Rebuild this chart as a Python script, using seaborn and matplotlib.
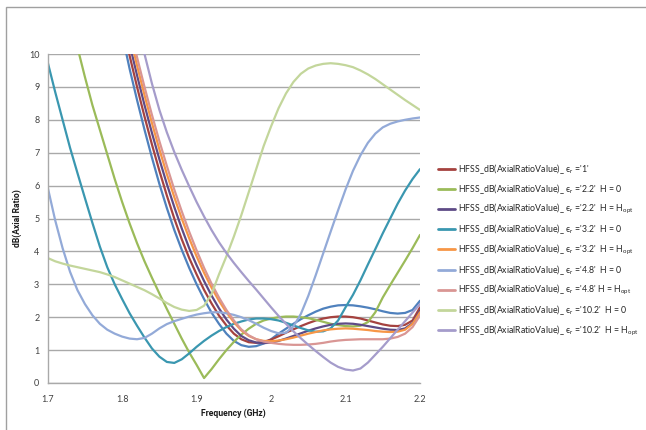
import numpy as np
import pandas as pd
import seaborn as sns
import matplotlib.pyplot as plt
from matplotlib import font_manager
from matplotlib.patches import Rectangle

nan = np.nan

# Frequency grid (GHz)
freq = np.round(np.arange(1.70, 2.2001, 0.01), 2)

# Axial ratio (dB) per simulated case
ar_ref = [nan] * 10 + [10.6, 9.55, 8.6, 7.7, 6.85, 6.05, 5.32, 4.65, 4.05, 3.5, 3.0, 2.55, 2.14, 1.8, 1.5,
                       1.28, 1.15, 1.1, 1.12, 1.2, 1.33, 1.5, 1.65, 1.8, 1.94, 2.06, 2.17, 2.26, 2.32, 2.36,
                       2.37, 2.36, 2.33, 2.29, 2.24, 2.18, 2.13, 2.11, 2.13, 2.22, 2.5]
ar_er1 = [nan] * 10 + [11.0, 9.95, 9.0, 8.1, 7.25, 6.45, 5.7, 5.0, 4.37, 3.8, 3.3, 2.83, 2.42, 2.05, 1.75,
                       1.5, 1.33, 1.24, 1.22, 1.25, 1.32, 1.42, 1.53, 1.63, 1.73, 1.82, 1.9, 1.96, 2.0, 2.02,
                       2.02, 2.0, 1.96, 1.9, 1.84, 1.78, 1.74, 1.73, 1.77, 1.9, 2.3]
ar_er22_h0 = [14.5, 13.4, 12.3, 11.2, 10.2, 9.3, 8.45, 7.7, 6.95, 6.2, 5.5, 4.85, 4.25, 3.7, 3.2, 2.72, 2.25,
              1.8, 1.35, 0.93, 0.55, 0.15, 0.42, 0.72, 1.0, 1.25, 1.47, 1.65, 1.8, 1.9, 1.96, 2.0, 2.02,
              2.02, 2.0, 1.97, 1.92, 1.86, 1.8, 1.76, 1.73, 1.72, 1.74, 1.85, 2.15, 2.6, 2.98, 3.35, 3.72,
              4.1, 4.5]
ar_er22_hopt = [nan] * 10 + [11.3, 10.3, 9.35, 8.45, 7.6, 6.8, 6.05, 5.35, 4.7, 4.1, 3.58, 3.1, 2.66, 2.27,
                             1.93, 1.65, 1.43, 1.3, 1.23, 1.21, 1.23, 1.28, 1.35, 1.43, 1.51, 1.59, 1.66, 1.72,
                             1.77, 1.8, 1.81, 1.8, 1.77, 1.73, 1.69, 1.65, 1.62, 1.61, 1.66, 1.82, 2.2]
ar_er32_h0 = [9.75, 8.85, 8.0, 7.15, 6.38, 5.62, 4.87, 4.15, 3.52, 3.0, 2.55, 2.12, 1.74, 1.38, 1.05, 0.8,
              0.64, 0.61, 0.72, 0.9, 1.1, 1.28, 1.44, 1.58, 1.7, 1.8, 1.87, 1.93, 1.96, 1.96, 1.94, 1.9,
              1.83, 1.75, 1.67, 1.6, 1.56, 1.57, 1.66, 1.9, 2.3, 2.68, 3.12, 3.6, 4.07, 4.55, 5.0, 5.45,
              5.85, 6.2, 6.5]
ar_er32_hopt = [nan] * 10 + [11.6, 10.6, 9.65, 8.75, 7.9, 7.1, 6.35, 5.65, 5.0, 4.4, 3.85, 3.35, 2.9, 2.5,
                             2.15, 1.85, 1.6, 1.43, 1.33, 1.28, 1.27, 1.29, 1.33, 1.38, 1.44, 1.5, 1.55, 1.6,
                             1.63, 1.65, 1.66, 1.65, 1.63, 1.61, 1.58, 1.56, 1.55, 1.56, 1.62, 1.8, 2.15]
ar_er48_h0 = [5.95, 4.95, 4.1, 3.38, 2.82, 2.4, 2.06, 1.8, 1.62, 1.5, 1.41, 1.35, 1.33, 1.37, 1.5, 1.66,
              1.79, 1.88, 1.95, 2.02, 2.08, 2.12, 2.15, 2.15, 2.12, 2.07, 2.0, 1.91, 1.8, 1.68, 1.58, 1.51,
              1.53, 1.72, 2.1, 2.65, 3.28, 3.94, 4.6, 5.25, 5.88, 6.45, 6.92, 7.3, 7.58, 7.77, 7.88, 7.95,
              8.0, 8.04, 8.07]
ar_er48_hopt = [nan] * 10 + [11.8, 10.85, 9.9, 9.0, 8.15, 7.35, 6.6, 5.88, 5.22, 4.6, 4.03, 3.5, 3.02, 2.6,
                             2.22, 1.9, 1.63, 1.45, 1.33, 1.26, 1.22, 1.19, 1.17, 1.16, 1.16, 1.17, 1.19, 1.22,
                             1.26, 1.29, 1.31, 1.32, 1.33, 1.33, 1.33, 1.33, 1.35, 1.4, 1.5, 1.7, 2.05]
ar_er102_h0 = [3.8, 3.7, 3.63, 3.57, 3.52, 3.47, 3.42, 3.37, 3.3, 3.22, 3.12, 3.02, 2.92, 2.82, 2.7, 2.57,
               2.43, 2.31, 2.23, 2.19, 2.22, 2.35, 2.7, 3.3, 3.85, 4.45, 5.1, 5.8, 6.5, 7.2, 7.8, 8.35, 8.8,
               9.15, 9.4, 9.56, 9.65, 9.7, 9.72, 9.7, 9.66, 9.6, 9.5, 9.38, 9.24, 9.08, 8.92, 8.76, 8.6,
               8.45, 8.3]
ar_er102_hopt = [nan] * 12 + [11.0, 10.0, 9.1, 8.3, 7.62, 7.02, 6.48, 5.98, 5.5, 5.06, 4.65, 4.28, 3.95, 3.65,
                              3.37, 3.1, 2.84, 2.57, 2.3, 2.04, 1.8, 1.57, 1.36, 1.16, 0.97, 0.79, 0.62, 0.49,
                              0.41, 0.38, 0.44, 0.62, 0.86, 1.1, 1.36, 1.62, 1.88, 2.14, 2.4]

PRE = "HFSS_dB(AxialRatioValue)_ \u03f5$_\\mathregular{r}$ ="
OPT = "H = H$_\\mathregular{opt}$"
series_labels = [
    "reference",
    PRE + "'1'",
    PRE + "'2.2'  H = 0",
    PRE + "'2.2'  " + OPT,
    PRE + "'3.2'  H = 0",
    PRE + "'3.2'  " + OPT,
    PRE + "'4.8'  H = 0",
    PRE + "'4.8' " + OPT,
    PRE + "'10.2'  H = 0",
    PRE + "'10.2'  " + OPT,
]
series_values = [ar_ref, ar_er1, ar_er22_h0, ar_er22_hopt, ar_er32_h0, ar_er32_hopt,
                 ar_er48_h0, ar_er48_hopt, ar_er102_h0, ar_er102_hopt]
series_colors = ["#4F81BD", "#A5423F", "#9BBB59", "#5E4B86", "#3A97B0", "#F79646",
                 "#93AAD8", "#D99694", "#C3D69B", "#A59CCB"]

x_ticks = [1.7, 1.8, 1.9, 2.0, 2.1, 2.2]
x_tick_labels = ["1.7", "1.8", "1.9", "2", "2.1", "2.2"]
y_ticks = list(range(0, 11))


def pick_font(cands):
    for name in cands:
        try:
            font_manager.findfont(font_manager.FontProperties(family=name),
                                  fallback_to_default=False)
            return name
        except ValueError:
            continue
    return "DejaVu Sans"


sns.set_style("white")
base_font = pick_font(["Liberation Sans Narrow", "Lato", "Liberation Sans"])
plt.rcParams["font.family"] = [base_font, "DejaVu Sans"]

frames = []
for lab, vals in zip(series_labels, series_values):
    frames.append(pd.DataFrame({"freq": freq, "ar": vals, "case": lab}))
df = pd.concat(frames, ignore_index=True).dropna()

fig = plt.figure(figsize=(6.46, 4.30), dpi=100)
ax = fig.add_axes([47.7 / 646, 1 - 383 / 430, (420 - 47.7) / 646, (383 - 54) / 430])

sns.lineplot(data=df, x="freq", y="ar", hue="case", hue_order=series_labels,
             palette=dict(zip(series_labels, series_colors)), linewidth=1.6,
             ax=ax, legend="full", sort=True, estimator=None)

ax.set_xlim(1.7, 2.2)
ax.set_ylim(0, 10)
ax.set_xticks(x_ticks)
ax.set_xticklabels(x_tick_labels)
ax.set_yticks(y_ticks)
ax.tick_params(axis="both", length=0, labelsize=6.5, labelcolor="#404040")
ax.tick_params(axis="x", pad=9)
ax.tick_params(axis="y", pad=6)
ax.yaxis.grid(True, color="#a9a9a9", linewidth=1.0)
ax.set_axisbelow(True)
for side in ("top", "right"):
    ax.spines[side].set_visible(False)
for side in ("left", "bottom"):
    ax.spines[side].set_color("#a9a9a9")
    ax.spines[side].set_linewidth(1.0)

label_font = dict(family=["Roboto", "DejaVu Sans"], fontsize=6.2, fontweight="bold", color="#1a1a1a")
ax.set_xlabel("Frequency (GHz)", **label_font)
ax.set_ylabel("dB(Axial Ratio)", **label_font)
ax.xaxis.set_label_coords(0.5, -0.078)
ax.yaxis.set_label_coords(-0.068, 0.5)

handles, labels = ax.get_legend_handles_labels()
keep = [(h, l) for h, l in zip(handles, labels) if l != "reference"]
ax.get_legend().remove()
for h, _ in keep:
    h.set_linewidth(2.0)
fig.legend([h for h, _ in keep], [l for _, l in keep], loc="upper left",
           bbox_to_anchor=(438 / 646, 1 - 162 / 430), frameon=False, fontsize=6.3,
           handlelength=2.0, handletextpad=0.25, labelspacing=0.72, borderpad=0,
           borderaxespad=0, labelcolor="#262626")

fig.patches.append(Rectangle((6 / 646, -0.02), 1.0, 1 - 7 / 430 + 0.02,
                             transform=fig.transFigure, fill=False,
                             edgecolor="#a0a0a0", linewidth=1.0))

fig.savefig("out.png", dpi=100, facecolor="white")
